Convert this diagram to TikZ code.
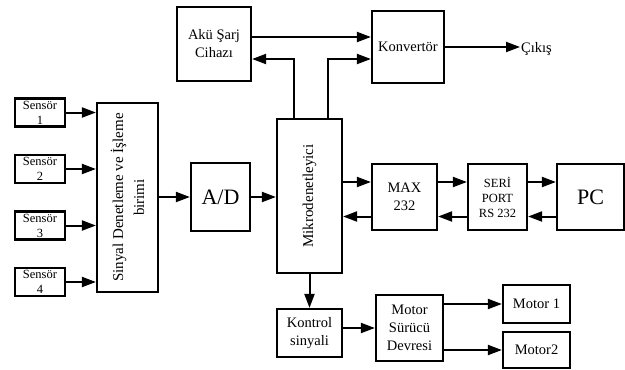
\documentclass[tikz,border=0pt]{standalone}
\usepackage{fontspec}
\setmainfont{Liberation Serif}
\usetikzlibrary{arrows.meta,calc}

\begin{document}
\begin{tikzpicture}[x=1pt, y=-1pt,
    blok/.style={draw, line width=2.2pt, inner sep=0pt, align=center, font=\fontsize{14.5}{18}\selectfont},
    kucuk/.style={font=\fontsize{12.5}{15}\selectfont},
    buyuk/.style={font=\fontsize{22}{24}\selectfont},
    ok/.style={line width=2pt, -{Triangle[length=14pt,width=10pt]}}]
  \useasboundingbox (0,0) rectangle (625,370);
  \foreach \i/\y in {1/112.5, 2/169, 3/225.5, 4/282} {
    \node[blok, kucuk, minimum width=50, minimum height=28] (s\i) at (40,\y) {Sensör\\\i};
  }
  \node[blok, minimum width=61, minimum height=189] (sinyal) at (127.5,197.5) {};
  \node[rotate=90, align=center, font=\fontsize{15}{21}\selectfont] (sinyaltxt) at (sinyal) {Sinyal Denetleme ve İşleme\\birimi};
  \node[blok, buyuk, minimum width=59, minimum height=68] (ad) at (220.5,197) {A/D};
  \node[blok, minimum width=65, minimum height=154] (mikro) at (309.5,196) {};
  \node[rotate=90, font=\fontsize{15}{18}\selectfont] (mikrotxt) at (mikro) {Mikrodenetleyici};
  \node[blok, minimum width=65, minimum height=66] (max) at (404.5,197) {MAX\\232};
  \node[blok, kucuk, minimum width=59, minimum height=66] (seri) at (497.5,197) {SERİ\\PORT\\RS 232};
  \node[blok, buyuk, minimum width=67, minimum height=66] (pc) at (590.5,197) {PC};
  \node[blok, minimum width=74, minimum height=74] (aku) at (214,44) {Akü Şarj\\Cihazı};
  \node[blok, minimum width=72, minimum height=72] (konv) at (408,47) {Konvertör};
  \node[anchor=base west, inner sep=1pt, font=\fontsize{14.5}{18}\selectfont] (cikis) at (520,52) {Çıkış};
  \node[blok, minimum width=65, minimum height=48] (kontrol) at (309.5,333) {Kontrol\\sinyali};
  \node[blok, minimum width=67, minimum height=66] (surucu) at (409.5,328) {Motor\\Sürücü\\Devresi};
  \node[blok, minimum width=67, minimum height=38] (m1) at (536.5,304) {Motor 1};
  \node[blok, minimum width=67, minimum height=36] (m2) at (536.5,350) {Motor2};
  \coordinate (ust) at (0,182);
  \coordinate (alt) at (0,216.5);
  \foreach \i in {1,...,4}
    \draw[ok] (s\i.east) -- (s\i.east -| sinyal.west);
  \draw[ok] (sinyal.east |- ad.west) -- (ad.west);
  \draw[ok] (ad.east) -- (ad.east -| mikro.west);
  \draw[ok] (mikro.east |- ust) -- (max.west |- ust);
  \draw[ok] (max.west |- alt) -- (mikro.east |- alt);
  \draw[ok] (max.east |- ust) -- (seri.west |- ust);
  \draw[ok] (seri.west |- alt) -- (max.east |- alt);
  \draw[ok] (seri.east |- ust) -- (pc.west |- ust);
  \draw[ok] (pc.west |- alt) -- (seri.east |- alt);
  \draw[ok] ([yshift=7pt]aku.east) -- ([yshift=7pt]aku.east -| konv.west);
  \draw[ok] ([xshift=-15.5pt]mikro.north) |- ([yshift=-15pt]aku.east);
  \draw[ok] ([xshift=18.5pt]mikro.north) |- ([yshift=-12pt]konv.west);
  \draw[ok] (konv.east) -- (konv.east -| cikis.west);
  \draw[ok] (mikro.south) -- (kontrol.north);
  \draw[ok] (kontrol.east |- surucu.west) -- (surucu.west);
  \draw[ok] (surucu.east |- m1.west) -- (m1.west);
  \draw[ok] (surucu.east |- m2.west) -- (m2.west);
\end{tikzpicture}
\end{document}
